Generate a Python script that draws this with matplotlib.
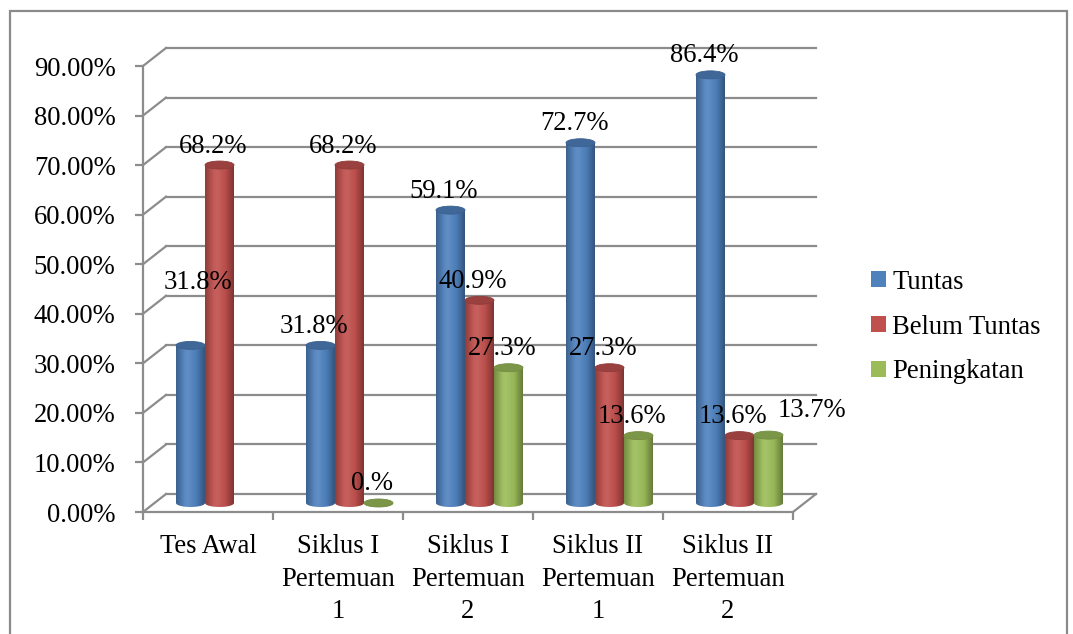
import numpy as np
import matplotlib
matplotlib.use("Agg")
import matplotlib.pyplot as plt
from matplotlib.colors import LinearSegmentedColormap, to_rgb
from matplotlib.patches import Ellipse, Rectangle, PathPatch
from matplotlib.path import Path

# data
categories = ["Tes Awal", "Siklus I\nPertemuan\n1", "Siklus I\nPertemuan\n2",
              "Siklus II\nPertemuan\n1", "Siklus II\nPertemuan\n2"]
series_names = ["Tuntas", "Belum Tuntas", "Peningkatan"]
tuntas = [31.8, 31.8, 59.1, 72.7, 86.4]
belum_tuntas = [68.2, 68.2, 40.9, 27.3, 13.6]
peningkatan = [np.nan, 0.0, 27.3, 13.6, 13.7]
y_ticks = [0, 10, 20, 30, 40, 50, 60, 70, 80, 90]

colors = ["#4F81BD", "#C0504D", "#9BBB59"]
grid_color = "#8c8c8c"
FONT = "Liberation Serif"
FS = 19.2

W, H, DPI = 1073, 634, 100
# plot area in pixels: left 143, right 793, 0% at y=512, 90% at y=66
PX_X = 130.0            # pixels per category
PX_Y = 446.0 / 90.0     # pixels per percent
DEPTH_X = 23 / PX_X     # depth of the 3d box in data units
DEPTH_Y = 18 / PX_Y
BAR_W = 29 / PX_X
ELL_H = 8 / PX_Y

# label offsets in pixels (text centre relative to cylinder top)
label_offset = (-6.5, -21)
label_override = {(0, 0): (7.5, -65), (4, 2): (43, -27)}


def fmt(v):
    return f"{v:.1f}".rstrip("0") + "%"


def shade(c, f):
    r, g, b = to_rgb(c)
    if f < 1:
        return (r * f, g * f, b * f)
    return (r + (1 - r) * (f - 1), g + (1 - g) * (f - 1), b + (1 - b) * (f - 1))


fig = plt.figure(figsize=(W / DPI, H / DPI), dpi=DPI)
ax = fig.add_axes([143 / W, (H - 512) / H, 650 / W, 446 / H])
ax.set_facecolor("none")

# outer frame
fig.patches.append(Rectangle((10 / W, -0.05), (1067 - 10) / W, 1.05 - 11 / H,
                             transform=fig.transFigure, fill=False,
                             edgecolor="#8a8a8a", linewidth=1.6))

# back wall grid and floor
n = len(categories)
for t in y_ticks:
    ax.plot([DEPTH_X, n + DEPTH_X], [t + DEPTH_Y, t + DEPTH_Y], color=grid_color,
            lw=1.6, clip_on=False, zorder=1)
    ax.plot([0, DEPTH_X], [t, t + DEPTH_Y], color=grid_color, lw=1.6,
            clip_on=False, zorder=1)
ax.plot([n, n + DEPTH_X], [0, DEPTH_Y], color=grid_color, lw=1.6,
        clip_on=False, zorder=1)


def cylinder(xc, value, color, z):
    base = DEPTH_Y / 2
    top = value + DEPTH_Y / 2
    x0, x1 = xc - BAR_W / 2, xc + BAR_W / 2
    ry = ELL_H / 2
    th = np.linspace(np.pi, 2 * np.pi, 40)
    verts = [(x0, top), (x0, base)]
    verts += list(zip(xc + BAR_W / 2 * np.cos(th), base + ry * np.sin(th)))
    verts += [(x1, base), (x1, top), (x0, top)]
    body = PathPatch(Path(verts), facecolor="none", edgecolor="none")
    ax.add_patch(body)
    cmap = LinearSegmentedColormap.from_list(
        "cyl", [(0, shade(color, 0.75)), (0.3, shade(color, 1.06)),
                (0.42, shade(color, 1.1)), (0.7, shade(color, 0.97)),
                (1, shade(color, 0.66))])
    im = ax.imshow(np.linspace(0, 1, 64)[None, :], cmap=cmap, aspect="auto",
                   extent=[x0, x1, base - ry, top], zorder=z)
    im.set_clip_path(body)
    ax.add_patch(Ellipse((xc, top), BAR_W, ELL_H, facecolor=shade(color, 0.8),
                         edgecolor=shade(color, 0.75), lw=0.6, zorder=z + 0.1))
    return top


series = [tuntas, belum_tuntas, peningkatan]
for i in range(n):
    gc = i + 0.5 + DEPTH_X / 2
    for k, vals in enumerate(series):
        v = vals[i]
        if np.isnan(v):
            continue
        xc = gc + (k - 1) * BAR_W
        top = cylinder(xc, v, colors[k], 3 + k)
        dx, dy = label_override.get((i, k), label_offset)
        ax.annotate(fmt(v), xy=(xc, top), xytext=(dx * 0.72, -(dy + 8.5) * 0.72),
                    textcoords="offset points", ha="center", va="baseline",
                    fontfamily=FONT, fontsize=FS, zorder=10, annotation_clip=False)

ax.set_xlim(0, n)
ax.set_ylim(0, 90)

for s in ["top", "right"]:
    ax.spines[s].set_visible(False)
for s in ["left", "bottom"]:
    ax.spines[s].set_color(grid_color)
    ax.spines[s].set_linewidth(1.6)

ax.set_yticks(y_ticks)
ax.set_yticklabels([f"{t:.2f}%" for t in y_ticks], fontfamily=FONT, fontsize=FS)
ax.set_xticks(np.arange(n) + 0.5)
ax.set_xticklabels(categories, fontfamily=FONT, fontsize=FS, linespacing=1.42)
ax.set_xticks(np.arange(n + 1), minor=True)
ax.tick_params(axis="y", color=grid_color, width=1.6, length=5.8, pad=14)
ax.tick_params(axis="x", which="major", length=0, pad=15.5)
ax.tick_params(axis="x", which="minor", color=grid_color, width=1.6, length=5.5)

handles = [Rectangle((0, 0), 1, 1, facecolor=c, edgecolor="none") for c in colors]
fig.legend(handles, series_names, loc="center left",
           bbox_to_anchor=(871 / W, (H - 327) / H), frameon=False,
           prop={"family": FONT, "size": FS}, handlelength=0.55, handleheight=0.55,
           handletextpad=0.25, labelspacing=0.74, borderpad=0, borderaxespad=0)

fig.savefig("out.png", dpi=DPI)
